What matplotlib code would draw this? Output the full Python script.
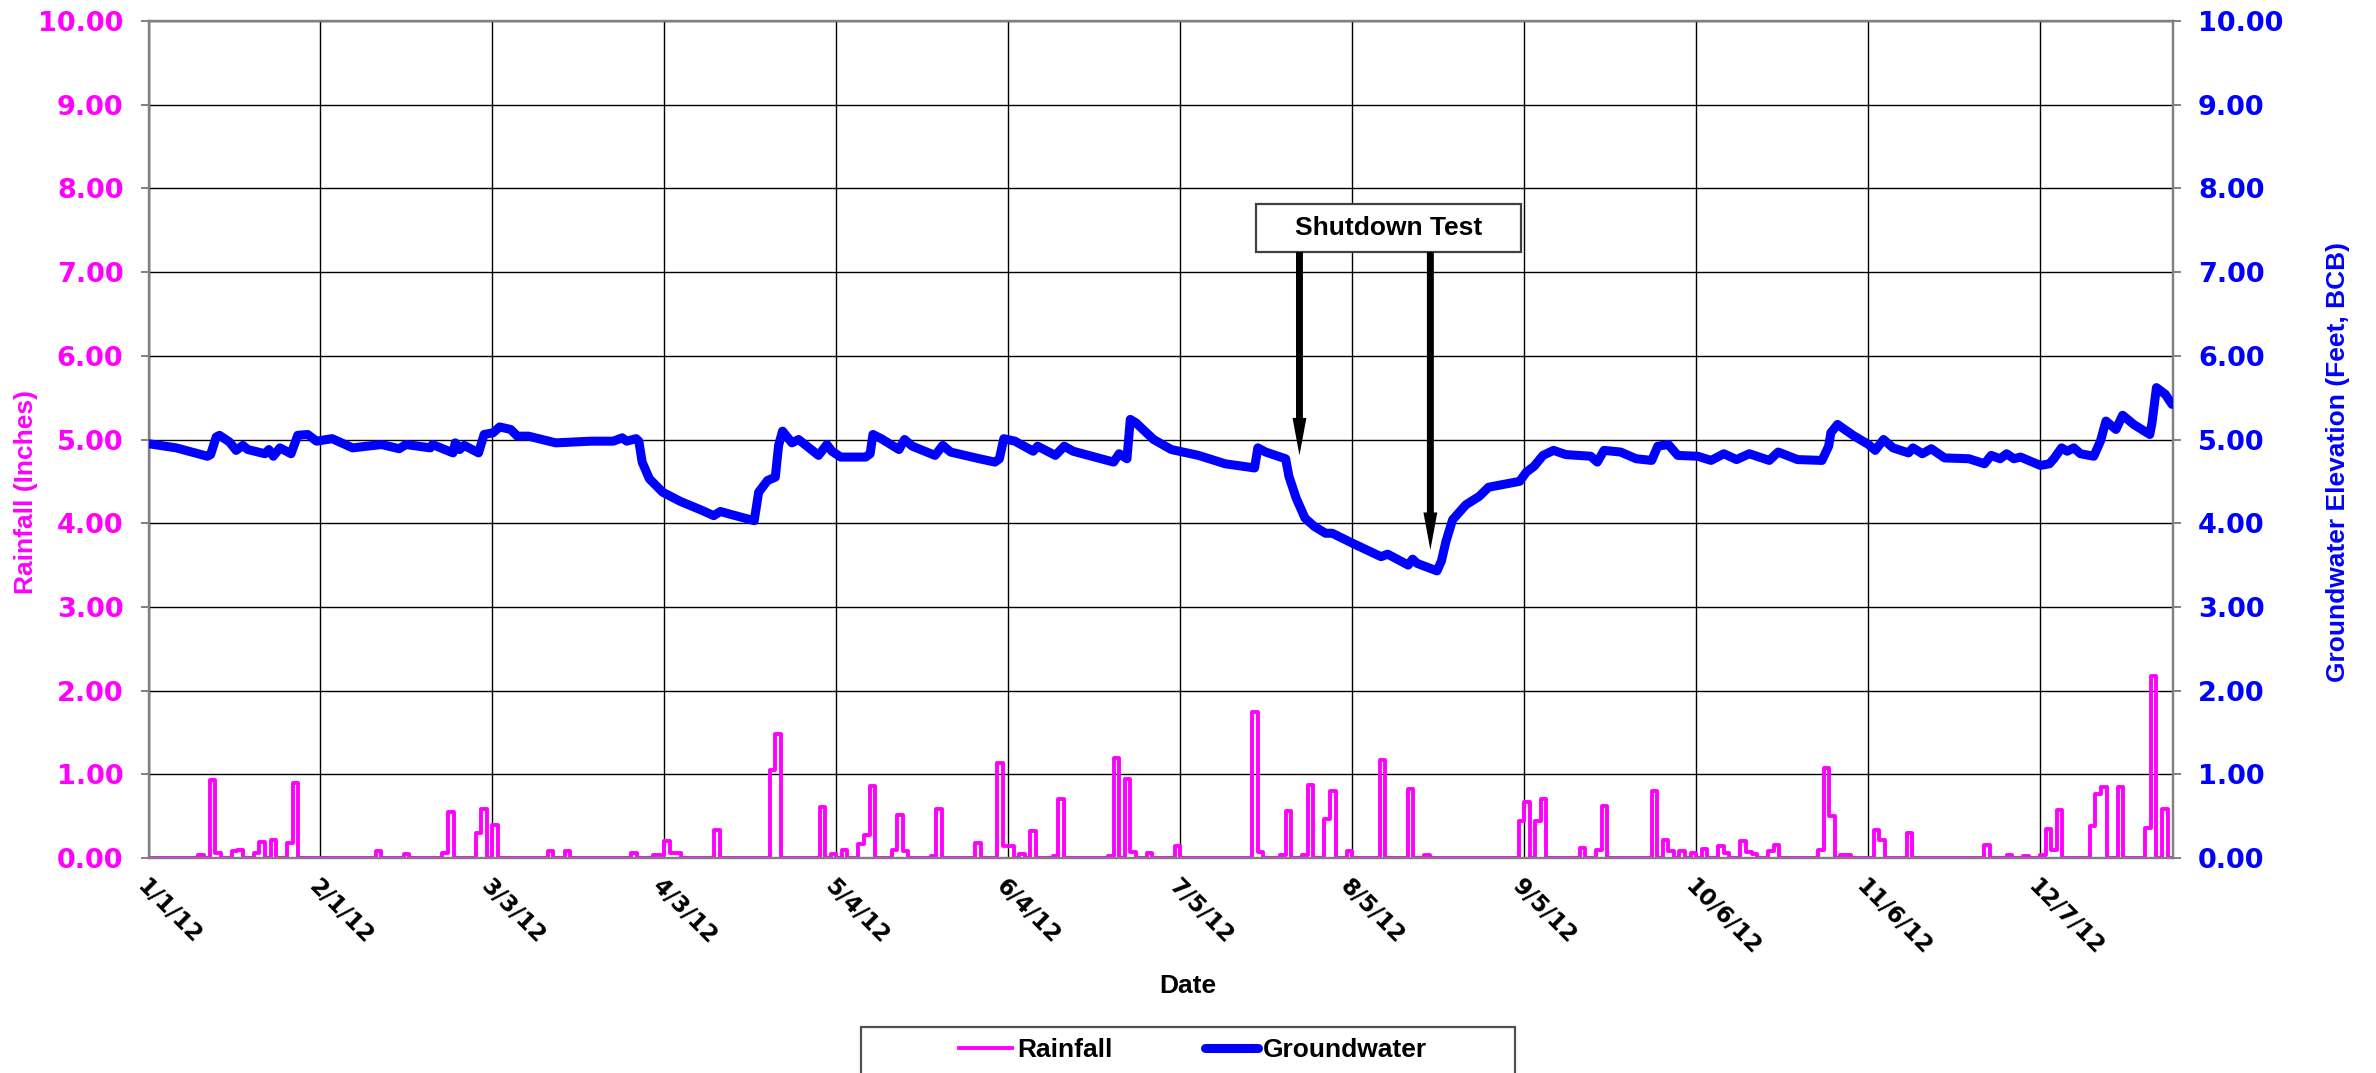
import matplotlib
matplotlib.use('Agg')
import matplotlib.pyplot as plt
from matplotlib.patches import Rectangle
from matplotlib.ticker import FormatStrFormatter
import numpy as np
import pandas as pd

plt.rcParams['font.family'] = ['Liberation Sans', 'DejaVu Sans']

# ---------------- data ----------------
START = pd.Timestamp('2012-01-01')
END = pd.Timestamp('2012-12-31')

x_tick_labels = ['1/1/12', '2/1/12', '3/3/12', '4/3/12', '5/4/12', '6/4/12',
                 '7/5/12', '8/5/12', '9/5/12', '10/6/12', '11/6/12', '12/7/12']
y_ticks = [0, 1, 2, 3, 4, 5, 6, 7, 8, 9, 10]

# daily rainfall events (day offset from 1/1/12, inches)
rain_days = [9, 11, 12, 15, 16, 19, 20, 22, 25, 26, 41, 46, 53, 54, 59, 60, 62,
             72, 75, 87, 91, 92, 93, 94, 95, 102, 112, 113, 121, 123, 125, 128,
             129, 130, 134, 135, 136, 141, 142, 149, 153, 154, 155, 157, 159,
             163, 164, 173, 174, 176, 177, 180, 185, 199, 200, 204, 205, 208,
             209, 212, 213, 216, 222, 227, 230, 247, 248, 250, 251, 258, 261,
             262, 271, 273, 274, 276, 278, 280, 283, 284, 287, 288, 289, 292,
             293, 301, 302, 303, 305, 306, 311, 312, 317, 331, 335, 338, 341,
             342, 343, 344, 350, 351, 352, 355, 360, 361, 363]
rain_inches = [0.03, 0.93, 0.06, 0.08, 0.10, 0.06, 0.19, 0.21, 0.18, 0.90, 0.08,
               0.05, 0.06, 0.55, 0.30, 0.59, 0.39, 0.08, 0.08, 0.06, 0.04, 0.04,
               0.20, 0.06, 0.06, 0.33, 1.05, 1.48, 0.61, 0.05, 0.09, 0.17, 0.27,
               0.86, 0.09, 0.51, 0.08, 0.02, 0.59, 0.18, 1.13, 0.14, 0.14, 0.05,
               0.32, 0.02, 0.71, 0.02, 1.19, 0.94, 0.07, 0.06, 0.14, 1.75, 0.07,
               0.03, 0.56, 0.03, 0.87, 0.47, 0.80, 0.08, 1.17, 0.83, 0.04, 0.44,
               0.67, 0.44, 0.71, 0.12, 0.10, 0.62, 0.80, 0.21, 0.08, 0.08, 0.06,
               0.11, 0.14, 0.06, 0.20, 0.07, 0.05, 0.08, 0.16, 0.09, 1.07, 0.50,
               0.04, 0.04, 0.33, 0.22, 0.30, 0.15, 0.03, 0.02, 0.04, 0.35, 0.09,
               0.57, 0.38, 0.76, 0.85, 0.85, 0.36, 2.18, 0.58]

# groundwater elevation readings (day offset from 1/1/12, feet BCB)
gw_days = [0, 5, 10.6, 11.2, 12.2, 12.8, 14.6, 15.8, 17.0, 17.9, 21.0, 21.7, 22.5,
           23.7, 25.7, 26.9, 28.7, 30.3, 33.1, 36.8, 42.0, 45.2, 46.4, 50.8, 51.2,
           54.9, 55.3, 56.1, 56.9, 59.5, 60.5, 62.1, 63.3, 65.3, 66.5, 68.5, 73.4,
           79.8, 83.8, 85.4, 86.2, 87.9, 88.4, 89.0, 90.3, 92.7, 95.9, 99.9, 101.9,
           103.1, 104.7, 109.2, 110.0, 111.6, 113.0, 113.6, 114.3, 116.0, 117.2,
           120.8, 122.3, 123.2, 124.8, 129.3, 130.1, 130.6, 132.1, 135.3, 136.3,
           137.7, 141.8, 143.2, 144.6, 149.8, 152.6, 153.4, 154.2, 156.2, 159.5,
           160.3, 163.5, 165.1, 166.7, 174.0, 175.0, 176.4, 177.0, 178.0, 181.2,
           184.4, 189.3, 194.1, 199.4, 200.0, 201.4, 205.0, 205.6, 206.9, 208.5,
           210.2, 212.2, 213.4, 217.4, 222.2, 223.4, 227.1, 227.9, 228.7, 232.3,
           233.1, 233.9, 235.1, 237.5, 239.9, 241.6, 247.2, 248.4, 249.8, 251.4,
           253.3, 255.5, 260.0, 261.2, 262.4, 265.4, 268.2, 271.0, 272.1, 274.0,
           275.7, 279.3, 281.7, 284.0, 286.3, 288.6, 292.2, 293.8, 297.3, 301.7,
           302.9, 303.3, 304.5, 307.3, 310.1, 311.3, 312.8, 314.5, 317.3, 318.1,
           319.8, 321.4, 323.8, 328.2, 331.0, 332.2, 333.8, 335.0, 336.3, 337.5,
           341.1, 342.7, 343.5, 344.9, 345.9, 347.1, 348.3, 350.7, 351.9, 352.9,
           354.7, 355.9, 357.9, 360.8, 361.2, 362.0, 363.6, 364.8]
gw_feet = [4.95, 4.90, 4.80, 4.82, 5.03, 5.05, 4.97, 4.87, 4.93, 4.88, 4.83, 4.88,
           4.80, 4.90, 4.83, 5.05, 5.06, 4.98, 5.01, 4.90, 4.94, 4.89, 4.94, 4.90,
           4.94, 4.84, 4.96, 4.88, 4.93, 4.84, 5.06, 5.08, 5.15, 5.12, 5.04, 5.04,
           4.96, 4.98, 4.98, 5.02, 4.98, 5.01, 4.98, 4.73, 4.53, 4.37, 4.26, 4.15,
           4.09, 4.14, 4.11, 4.03, 4.37, 4.51, 4.55, 4.93, 5.10, 4.96, 5.00, 4.81,
           4.94, 4.86, 4.79, 4.79, 4.83, 5.06, 5.01, 4.88, 5.00, 4.92, 4.81, 4.93,
           4.85, 4.77, 4.73, 4.77, 5.01, 4.98, 4.86, 4.92, 4.81, 4.92, 4.86, 4.73,
           4.83, 4.77, 5.24, 5.20, 5.00, 4.88, 4.81, 4.71, 4.66, 4.90, 4.85, 4.77,
           4.56, 4.30, 4.06, 3.96, 3.88, 3.88, 3.75, 3.60, 3.63, 3.50, 3.57, 3.52,
           3.43, 3.55, 3.78, 4.04, 4.22, 4.32, 4.43, 4.50, 4.61, 4.68, 4.81, 4.87,
           4.82, 4.80, 4.73, 4.87, 4.85, 4.77, 4.75, 4.92, 4.94, 4.81, 4.80, 4.75,
           4.83, 4.76, 4.83, 4.75, 4.85, 4.76, 4.75, 4.92, 5.08, 5.18, 5.05, 4.94,
           4.87, 5.00, 4.90, 4.84, 4.90, 4.83, 4.89, 4.78, 4.77, 4.71, 4.81, 4.77,
           4.83, 4.77, 4.79, 4.69, 4.71, 4.77, 4.90, 4.86, 4.90, 4.83, 4.80, 4.98,
           5.22, 5.12, 5.29, 5.18, 5.06, 5.20, 5.62, 5.54, 5.42]

shutdown_label = 'Shutdown Test'
shutdown_arrow_days = [207.5, 231.1]
shutdown_arrow_values = [4.81, 3.68]

MAGENTA = '#FF00FF'
BLUE = '#0000FF'
GRAY = '#808080'
WIDE = ['DejaVu Sans']

# ---------------- build series ----------------
all_dates = pd.date_range(START, END, freq='D')
rain_daily = np.zeros(len(all_dates))
rain_daily[np.array(rain_days)] = rain_inches
gw_dates = START + pd.to_timedelta(np.array(gw_days), unit='D')
tick_dates = pd.to_datetime(x_tick_labels, format='%m/%d/%y')

# ---------------- figure ----------------
fig = plt.figure(figsize=(23.76, 10.73), dpi=100)
ax = fig.add_axes([0.0625, 0.2004, 0.8521, 0.7800])
ax2 = ax.twinx()

rain_line, = ax.plot(all_dates, rain_daily, drawstyle='steps-post', color=MAGENTA,
                     lw=2.8, zorder=3, label='Rainfall')
gw_line, = ax2.plot(gw_dates, gw_feet, color=BLUE, lw=6.5, solid_joinstyle='round',
                    solid_capstyle='round', zorder=3, label='Groundwater')

for a in (ax, ax2):
    a.set_xlim(START, END)
    a.set_ylim(0, 10)
    a.set_yticks(y_ticks)
    a.yaxis.set_major_formatter(FormatStrFormatter('%.2f'))
    for s in a.spines.values():
        s.set_color(GRAY)
        s.set_linewidth(1.6)

ax.set_xticks(tick_dates)
ax.set_xticklabels(x_tick_labels, rotation=-45, ha='left', va='top',
                   rotation_mode='anchor', fontsize=16.5, fontweight='bold',
                   family=WIDE)
ax.tick_params(axis='x', length=0, pad=12)
ax.grid(True, color='black', lw=1.0)

ax.tick_params(axis='y', direction='out', length=6, width=1.4, color=GRAY, pad=12,
               labelcolor=MAGENTA)
ax2.tick_params(axis='y', direction='out', length=6, width=1.4, color=GRAY, pad=12,
                labelcolor=BLUE)
for lbl in ax.get_yticklabels() + ax2.get_yticklabels():
    lbl.set_fontweight('bold')
    lbl.set_fontsize(19.5)
    lbl.set_family(WIDE)

ax.set_ylabel('Rainfall (Inches)', color=MAGENTA, fontsize=19, fontweight='bold',
              va='center')
ax.yaxis.set_label_coords(-0.0605, 0.437)
ax2.set_ylabel('Groundwater Elevation (Feet, BCB)', color=BLUE, fontsize=19,
               fontweight='bold', va='center')
ax2.yaxis.set_label_coords(1.0815, 0.473)
ax.set_xlabel('Date', fontsize=19, fontweight='bold', va='center')
ax.xaxis.set_label_coords(0.5135, -0.153)

# annotation box + arrows
box = Rectangle((0.5470, 0.724), 0.1309, 0.0574, transform=ax.transAxes,
                facecolor='white', edgecolor='#404040', lw=1.6, zorder=6)
ax.add_patch(box)
ax.text(0.6125, 0.7527, shutdown_label, transform=ax.transAxes, ha='center',
        va='center', fontsize=19, fontweight='bold', zorder=7)
for d, v in zip(shutdown_arrow_days, shutdown_arrow_values):
    xd = START + pd.Timedelta(days=d)
    ax.annotate('', xy=(xd, v), xytext=(xd, 7.24), zorder=6,
                arrowprops=dict(arrowstyle='simple,head_length=2.7,head_width=1.0,tail_width=0.5',
                                mutation_scale=10, fc='black', ec='black', lw=0,
                                shrinkA=0, shrinkB=0))

# legend
fig.legend([rain_line, gw_line], ['Rainfall', 'Groundwater'], loc='center',
           bbox_to_anchor=(1193 / 2376, 1 - 1050 / 1073), ncol=2, frameon=False,
           prop={'size': 19, 'weight': 'bold'}, handlelength=2.0, handletextpad=0.2,
           columnspacing=3.5, borderpad=0)
frame = Rectangle((861 / 2376, -0.05), (1515 - 861) / 2376, 0.05 + 1 - 1027 / 1073,
                  transform=fig.transFigure, fill=False, edgecolor='#505050', lw=1.6)
fig.add_artist(frame)

fig.savefig('out.png', dpi=100)
